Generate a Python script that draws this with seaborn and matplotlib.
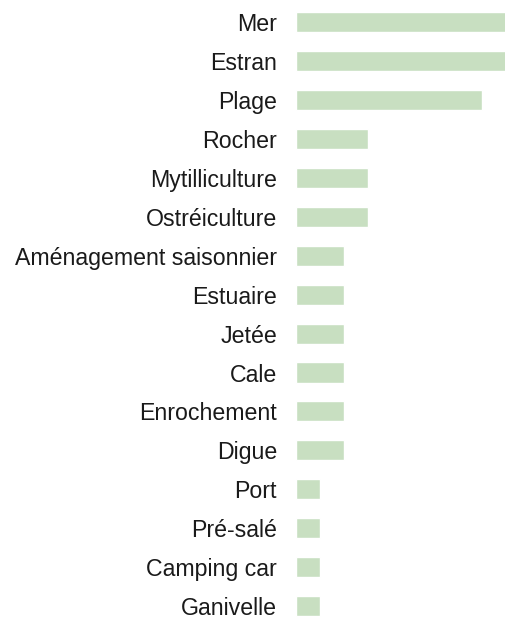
import matplotlib
matplotlib.use("Agg")
import matplotlib.pyplot as plt
import seaborn as sns
import pandas as pd

categories = ["Mer", "Estran", "Plage", "Rocher", "Mytilliculture", "Ostréiculture",
              "Aménagement saisonnier", "Estuaire", "Jetée", "Cale", "Enrochement",
              "Digue", "Port", "Pré-salé", "Camping car", "Ganivelle"]
values = [9.5, 9.5, 7.8, 3, 3, 3, 2, 2, 2, 2, 2, 2, 1, 1, 1, 1]

df = pd.DataFrame({"lieu": categories, "n": values})

sns.set_style("white")
plt.rcParams["font.family"] = ["Liberation Sans", "DejaVu Sans"]

fig = plt.figure(figsize=(5.06, 6.17), dpi=100)
ax = fig.add_axes([296 / 506, 0, 1 - 296 / 506, 1])

sns.barplot(data=df, x="n", y="lieu", color="#c8dfc1", saturation=1,
            width=0.515, ax=ax)

ax.set_xlim(0, 8.8)
ax.set_ylim(15.283, -0.573)
ax.set_xlabel("")
ax.set_ylabel("")
ax.set_xticks([])
ax.tick_params(axis="y", length=0, pad=13.7, labelsize=16.7, labelcolor="#1a1a1a")
sns.despine(ax=ax, left=True, bottom=True)

fig.savefig("out.png", dpi=100)
